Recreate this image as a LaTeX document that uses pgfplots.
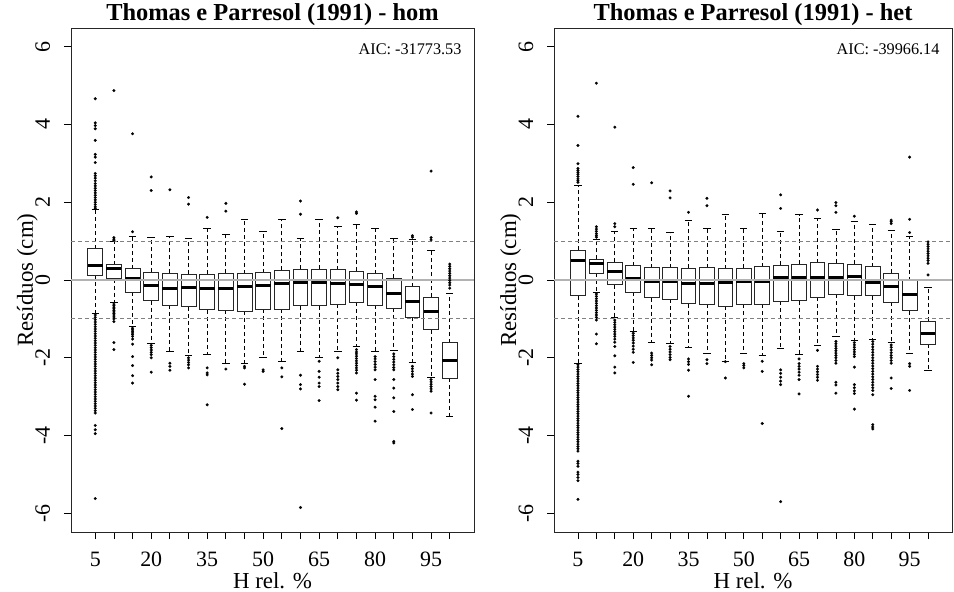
\documentclass[border=0pt]{standalone}
\usepackage{fontspec}
\setmainfont{Liberation Serif}
\usepackage{pgfplots}
\pgfplotsset{compat=1.18}
\usepgfplotslibrary{statistics}

\pgfplotsset{
  bpstyle/.style={black, solid, line width=0.8bp, mark=*, mark size=1.4bp,
    mark options={solid, fill=black, draw=black, line width=0.2bp}},
  boxplot/draw/lower whisker/.code={%
    \draw[black, dash pattern=on 4bp off 3bp, line width=0.8bp]
      (boxplot box cs:\pgfplotsboxplotvalue{lower quartile},0.5) --
      (boxplot box cs:\pgfplotsboxplotvalue{lower whisker},0.5);
    \draw[black, solid, line width=0.8bp]
      (boxplot whisker cs:\pgfplotsboxplotvalue{lower whisker},0) --
      (boxplot whisker cs:\pgfplotsboxplotvalue{lower whisker},1);
  },
  boxplot/draw/upper whisker/.code={%
    \draw[black, dash pattern=on 4bp off 3bp, line width=0.8bp]
      (boxplot box cs:\pgfplotsboxplotvalue{upper quartile},0.5) --
      (boxplot box cs:\pgfplotsboxplotvalue{upper whisker},0.5);
    \draw[black, solid, line width=0.8bp]
      (boxplot whisker cs:\pgfplotsboxplotvalue{upper whisker},0) --
      (boxplot whisker cs:\pgfplotsboxplotvalue{upper whisker},1);
  },
  panel/.style={
    scale only axis, height=504bp,
    xmin=-0.3, xmax=21.3, ymin=-6.48, ymax=6.48,
    xtick={1,...,20},
    xticklabels={5,{},{},20,{},{},35,{},{},50,{},{},65,{},{},80,{},{},95,{}},
    ytick={-6,-4,-2,0,2,4,6},
    yticklabels={-6,-4,-2,0,2,4,6},
    tick align=outside, xtick pos=bottom, ytick pos=left,
    major tick length=7bp,
    tick style={black, line width=0.8bp},
    axis line style={black!85, line width=0.9bp},
    tick label style={font=\fontsize{22}{24}\selectfont},
    yticklabel style={xshift=-14bp, rotate=90, anchor=base},
    xticklabel style={anchor=base, yshift=-27bp},
    every axis x label/.style={at={(axis description cs:0.5,0)}, anchor=base, yshift=-56bp,
      font=\fontsize{23}{26}\selectfont},
    every axis y label/.style={at={(axis description cs:0,0.5)}, xshift=-38bp, rotate=90, anchor=base,
      font=\fontsize{23}{26}\selectfont},
    title style={at={(axis description cs:0.5,1)}, anchor=base, yshift=1.5bp,
      font=\bfseries\fontsize{24.5}{27}\selectfont},
    xlabel={H rel. \%},
    ylabel={Resíduos (cm)},
    boxplot/draw direction=y,
    boxplot/box extend=0.8,
    boxplot/whisker extend=0.4,
    boxplot/every box/.style={draw=black!85, line width=0.9bp},
    boxplot/every median/.style={black, line width=3bp},
  },
}

\newcommand{\bp}[7]{%
  \addplot[bpstyle, boxplot prepared={draw position=#1, lower whisker=#2,
    lower quartile=#3, median=#4, upper quartile=#5, upper whisker=#6}]
    table[row sep=\\, y index=0] {y\\ #7};}

\newcommand{\reflines}{%
  \addplot[black!50, line width=0.8bp, dash pattern=on 4bp off 3bp] coordinates {(-0.3,1) (21.3,1)};
  \addplot[black!50, line width=0.8bp, dash pattern=on 4bp off 3bp] coordinates {(-0.3,-1) (21.3,-1)};
  \addplot[black!30, line width=2bp] coordinates {(-0.3,0) (21.3,0)};}

\begin{document}
\begin{tikzpicture}
\begin{axis}[panel, width=403bp, at={(0,0)}, anchor=south west,
  title={Thomas e Parresol (1991) - hom}]
\bp{1}{-0.85}{0.12}{0.38}{0.80}{1.81}{4.66\\ 4.04\\ 3.97\\ 3.89\\ 3.59\\ 3.23\\ 3.16\\ 3.02\\ 2.74\\ 2.68\\ 2.62\\ 2.55\\ 2.48\\ 2.42\\ 2.36\\ 2.30\\ 2.24\\ 2.18\\ 2.12\\ 2.06\\ 2.00\\ 1.94\\ 1.88\\ 1.84\\ -0.90\\ -0.96\\ -1.02\\ -1.08\\ -1.14\\ -1.20\\ -1.26\\ -1.32\\ -1.38\\ -1.44\\ -1.50\\ -1.56\\ -1.62\\ -1.68\\ -1.74\\ -1.80\\ -1.86\\ -1.92\\ -1.98\\ -2.04\\ -2.10\\ -2.16\\ -2.22\\ -2.28\\ -2.34\\ -2.40\\ -2.46\\ -2.52\\ -2.58\\ -2.64\\ -2.70\\ -2.76\\ -2.82\\ -2.88\\ -2.94\\ -3.00\\ -3.06\\ -3.12\\ -3.18\\ -3.24\\ -3.30\\ -3.36\\ -3.42\\ -3.74\\ -3.85\\ -3.95\\ -5.62\\}
\bp{2}{-0.58}{0.03}{0.30}{0.39}{0.98}{4.87\\ 1.09\\ 1.05\\ 1.02\\ -0.62\\ -0.66\\ -0.70\\ -0.74\\ -0.78\\ -0.82\\ -0.86\\ -0.90\\ -0.95\\ -1.00\\ -1.07\\ -1.61\\ -1.79\\}
\bp{3}{-1.20}{-0.32}{0.05}{0.29}{1.11}{3.76\\ 1.24\\ -1.24\\ -1.28\\ -1.32\\ -1.36\\ -1.40\\ -1.45\\ -1.52\\ -1.65\\ -1.97\\ -2.20\\ -2.46\\ -2.65\\}
\bp{4}{-1.62}{-0.53}{-0.15}{0.205}{1.09}{2.65\\ 2.30\\ -1.68\\ -1.74\\ -1.80\\ -1.86\\ -1.92\\ -2.00\\ -2.37\\}
\bp{5}{-1.84}{-0.65}{-0.21}{0.17}{1.12}{2.32\\ -2.14\\ -2.22\\ -2.32\\}
\bp{6}{-1.95}{-0.69}{-0.20}{0.15}{1.08}{2.12\\ 1.95\\ -2.00\\ -2.06\\ -2.12\\ -2.18\\ -2.26\\}
\bp{7}{-1.92}{-0.77}{-0.22}{0.15}{1.32}{1.61\\ -2.26\\ -2.39\\ -2.44\\ -3.21\\}
\bp{8}{-2.15}{-0.78}{-0.21}{0.17}{1.16}{1.97\\ 1.77\\ -2.29\\}
\bp{9}{-2.14}{-0.81}{-0.17}{0.16}{1.57}{-2.22\\ -2.26\\ -2.68\\}
\bp{10}{-2.00}{-0.75}{-0.145}{0.19}{1.26}{-2.31\\ -2.35\\}
\bp{11}{-2.09}{-0.75}{-0.085}{0.25}{1.56}{-2.26\\ -2.49\\ -3.82\\}
\bp{12}{-1.84}{-0.66}{-0.06}{0.27}{1.08}{2.03\\ 1.69\\ -2.45\\ -2.69\\ -2.80\\ -5.85\\}
\bp{13}{-2.00}{-0.66}{-0.06}{0.28}{1.56}{-2.09\\ -2.35\\ -2.50\\ -2.65\\ -2.74\\ -3.10\\}
\bp{14}{-1.84}{-0.62}{-0.08}{0.26}{1.37}{1.60\\ -2.00\\ -2.31\\ -2.40\\ -2.48\\ -2.56\\ -2.65\\ -2.74\\ -2.82\\}
\bp{15}{-1.72}{-0.57}{-0.12}{0.22}{1.42}{1.75\\ 1.71\\ -1.79\\ -1.85\\ -1.90\\ -1.96\\ -2.02\\ -2.08\\ -2.14\\ -2.20\\ -2.26\\ -2.32\\ -2.39\\ -2.91\\ -3.09\\}
\bp{16}{-1.84}{-0.65}{-0.17}{0.16}{1.32}{-1.97\\ -2.03\\ -2.10\\ -2.17\\ -2.24\\ -2.31\\ -2.56\\ -2.99\\ -3.08\\ -3.27\\ -3.63\\}
\bp{17}{-1.81}{-0.72}{-0.35}{0.04}{1.06}{-1.90\\ -1.97\\ -2.04\\ -2.11\\ -2.18\\ -2.25\\ -2.31\\ -2.56\\ -2.78\\ -3.03\\ -3.38\\ -4.15\\ -4.19\\}
\bp{18}{-2.12}{-0.96}{-0.56}{-0.17}{1.05}{1.10\\ 1.14\\ -2.22\\ -2.28\\ -2.35\\ -2.42\\ -2.48\\ -2.95\\ -3.33\\}
\bp{19}{-2.50}{-1.28}{-0.82}{-0.44}{0.76}{2.80\\ 1.09\\ 1.03\\ -2.56\\ -2.62\\ -2.68\\ -2.74\\ -2.80\\ -2.86\\ -3.42\\}
\bp{20}{-3.50}{-2.52}{-2.08}{-1.61}{-0.34}{0.41\\ 0.35\\ 0.29\\ 0.23\\ 0.17\\ 0.11\\ 0.05\\ -0.01\\ -0.07\\ -0.13\\ -0.21\\}
\reflines
\node[anchor=base east, font=\fontsize{16.3}{18}\selectfont] at ([xshift=-9bp,yshift=-27bp]rel axis cs:1,1) {AIC: -31773.53};
\end{axis}

\begin{axis}[panel, width=398bp, at={(483bp,0)}, anchor=south west,
  title={Thomas e Parresol (1991) - het}]
\bp{1}{-2.14}{-0.41}{0.50}{0.77}{2.44}{4.21\\ 3.46\\ 2.99\\ 2.87\\ 2.82\\ 2.77\\ 2.72\\ 2.66\\ 2.60\\ 2.55\\ 2.51\\ -2.18\\ -2.24\\ -2.30\\ -2.36\\ -2.42\\ -2.48\\ -2.54\\ -2.60\\ -2.66\\ -2.72\\ -2.78\\ -2.84\\ -2.90\\ -2.96\\ -3.02\\ -3.08\\ -3.14\\ -3.20\\ -3.26\\ -3.32\\ -3.38\\ -3.44\\ -3.50\\ -3.56\\ -3.62\\ -3.68\\ -3.74\\ -3.80\\ -3.86\\ -3.92\\ -3.98\\ -4.04\\ -4.10\\ -4.16\\ -4.22\\ -4.28\\ -4.34\\ -4.40\\ -4.66\\ -4.72\\ -4.79\\ -4.94\\ -5.00\\ -5.08\\ -5.16\\ -5.64\\}
\bp{2}{-0.32}{0.17}{0.43}{0.53}{1.05}{5.06\\ 1.37\\ 1.31\\ 1.25\\ 1.19\\ 1.14\\ 1.10\\ -0.36\\ -0.42\\ -0.48\\ -0.54\\ -0.60\\ -0.66\\ -0.72\\ -0.78\\ -0.84\\ -0.90\\ -0.96\\ -1.03\\ -1.39\\ -1.64\\}
\bp{3}{-0.96}{-0.12}{0.21}{0.45}{1.26}{3.93\\ 1.45\\ 1.37\\ -1.03\\ -1.09\\ -1.15\\ -1.21\\ -1.27\\ -1.33\\ -1.39\\ -1.45\\ -1.52\\ -1.60\\ -1.71\\ -1.95\\ -2.24\\ -2.39\\}
\bp{4}{-1.32}{-0.32}{0.05}{0.37}{1.33}{2.89\\ 2.46\\ -1.37\\ -1.43\\ -1.49\\ -1.55\\ -1.62\\ -1.70\\ -1.78\\ -1.86\\ -2.12\\}
\bp{5}{-1.61}{-0.46}{-0.05}{0.32}{1.32}{2.50\\ -1.88\\ -1.94\\ -2.00\\ -2.06\\ -2.18\\}
\bp{6}{-1.62}{-0.50}{-0.05}{0.32}{1.22}{2.29\\ 2.11\\ -1.71\\ -1.78\\ -1.85\\ -1.92\\ -1.99\\ -2.05\\}
\bp{7}{-1.74}{-0.61}{-0.085}{0.30}{1.52}{1.74\\ -2.03\\ -2.10\\ -2.17\\ -2.32\\ -2.99\\}
\bp{8}{-1.88}{-0.62}{-0.085}{0.32}{1.32}{2.10\\ 1.91\\ -2.05\\ -2.15\\}
\bp{9}{-2.09}{-0.68}{-0.06}{0.29}{1.69}{-2.10\\ -2.52\\}
\bp{10}{-1.90}{-0.62}{-0.05}{0.30}{1.32}{-2.15\\ -2.20\\ -2.26\\}
\bp{11}{-1.94}{-0.63}{-0.04}{0.34}{1.71}{-2.09\\ -2.35\\ -3.69\\}
\bp{12}{-1.76}{-0.55}{0.06}{0.38}{1.24}{2.19\\ 1.84\\ -2.31\\ -2.40\\ -2.50\\ -2.60\\ -2.69\\ -5.70\\}
\bp{13}{-1.92}{-0.53}{0.06}{0.41}{1.68}{-2.03\\ -2.15\\ -2.22\\ -2.29\\ -2.37\\ -2.45\\ -2.56\\ -2.93\\}
\bp{14}{-1.68}{-0.44}{0.06}{0.44}{1.58}{1.80\\ -1.81\\ -2.22\\ -2.29\\ -2.36\\ -2.43\\ -2.50\\ -2.58\\}
\bp{15}{-1.45}{-0.37}{0.07}{0.43}{1.31}{1.99\\ 1.91\\ 1.74\\ -1.58\\ -1.64\\ -1.70\\ -1.76\\ -1.82\\ -1.88\\ -1.94\\ -2.00\\ -2.07\\ -2.14\\ -2.63\\ -2.70\\ -2.91\\}
\bp{16}{-1.56}{-0.40}{0.09}{0.41}{1.51}{1.64\\ -1.61\\ -1.67\\ -1.73\\ -1.79\\ -1.85\\ -1.91\\ -1.97\\ -2.24\\ -2.69\\ -2.77\\ -2.85\\ -2.92\\ -3.32\\}
\bp{17}{-1.52}{-0.41}{-0.06}{0.34}{1.43}{-1.58\\ -1.65\\ -1.72\\ -1.79\\ -1.86\\ -1.93\\ -2.00\\ -2.07\\ -2.14\\ -2.21\\ -2.28\\ -2.35\\ -2.42\\ -2.49\\ -2.56\\ -2.63\\ -2.70\\ -2.77\\ -2.84\\ -2.95\\ -3.72\\ -3.78\\ -3.83\\}
\bp{18}{-1.61}{-0.57}{-0.18}{0.18}{1.28}{1.54\\ 1.50\\ 1.45\\ -1.67\\ -1.73\\ -1.80\\ -1.87\\ -1.94\\ -2.00\\ -2.07\\ -2.14\\ -2.52\\ -2.79\\}
\bp{19}{-1.90}{-0.79}{-0.37}{-0.02}{1.13}{3.16\\ 1.56\\ 1.22\\ -2.15\\ -2.22\\ -2.84\\}
\bp{20}{-2.32}{-1.65}{-1.37}{-1.06}{-0.20}{0.98\\ 0.92\\ 0.86\\ 0.80\\ 0.74\\ 0.68\\ 0.62\\ 0.56\\ 0.50\\ 0.43\\ 0.13\\}
\reflines
\node[anchor=base east, font=\fontsize{16.3}{18}\selectfont] at ([xshift=-9bp,yshift=-27bp]rel axis cs:1,1) {AIC: -39966.14};
\end{axis}
\pgfresetboundingbox
\path[use as bounding box] (-71bp,-60bp) rectangle (883bp,532bp);
\end{tikzpicture}
\end{document}
